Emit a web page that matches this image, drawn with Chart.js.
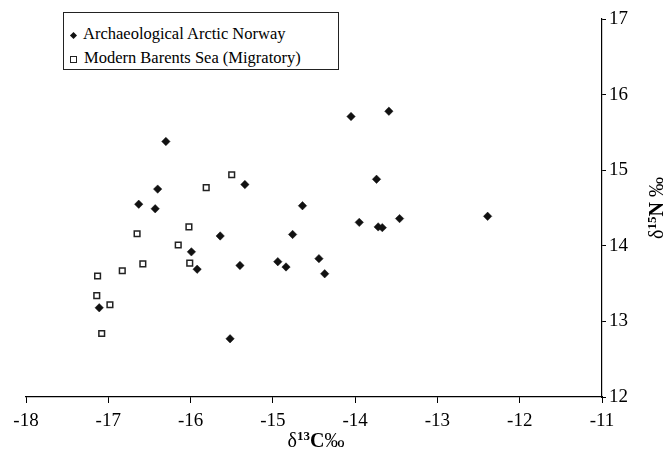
<!DOCTYPE html>
<html>
<head>
<meta charset="utf-8">
<script src="https://cdn.jsdelivr.net/npm/chart.js@4"></script>
<style>
  body { margin: 0; background: #fff; }
  #wrap { position: relative; width: 669px; height: 461px; font-family: 'Liberation Serif', serif; color: #000; }
  #legend { position: absolute; left: 63px; top: 12px; width: 274px; height: 56px; border: 1px solid #222; background: #fff; font-size: 16.5px; }
  #legend div { position: absolute; left: 6px; white-space: nowrap; }
  .mk { display: inline-block; vertical-align: middle; margin-right: 7px; }
  .dia { width: 5px; height: 5px; background: #111; transform: rotate(45deg); margin-left: 1px; }
  .sq { width: 5px; height: 5px; border: 1.2px solid #222; background: #fff; }
  #xtitle { position: absolute; left: 266px; width: 100px; text-align: center; top: 428px; font-size: 20px; }
  #ytitle { position: absolute; left: 616px; width: 80px; text-align: center; top: 196px; font-size: 20px; transform: rotate(-90deg); white-space: nowrap; }
  sup { font-size: 13px; font-weight: bold; vertical-align: 7px; }
</style>
</head>
<body>
<div id="wrap">
  <canvas id="chart" width="669" height="461"></canvas>
  <div id="legend">
    <div style="top:11px"><span class="mk dia"></span>Archaeological Arctic Norway</div>
    <div style="top:35px"><span class="mk sq"></span>Modern Barents Sea (Migratory)</div>
  </div>
  <div id="xtitle">δ<sup>13</sup><b>C</b>‰</div>
  <div id="ytitle">δ<sup>15</sup><b>N</b> ‰</div>
</div>
<script>
// Archaeological Arctic Norway
const archC = [-14.05, -16.30, -16.40, -16.63, -16.43, -15.34, -14.64, -13.95, -15.64, -14.76,
               -15.99, -15.92, -15.40, -14.94, -14.84, -14.44, -14.37, -17.11, -15.52, -13.59,
               -13.74, -13.72, -13.67, -13.46, -12.39];
const archN = [15.71, 15.38, 14.75, 14.55, 14.49, 14.81, 14.53, 14.31, 14.13, 14.15,
               13.92, 13.69, 13.74, 13.79, 13.72, 13.83, 13.63, 13.18, 12.77, 15.78,
               14.88, 14.25, 14.24, 14.36, 14.39];

// Modern Barents Sea (Migratory)
const modC = [-15.50, -15.81, -16.02, -16.65, -16.15, -16.58, -16.01, -16.83, -17.13, -17.14, -16.98, -17.08];
const modN = [14.94, 14.77, 14.25, 14.16, 14.01, 13.76, 13.77, 13.67, 13.60, 13.34, 13.22, 12.84];

const xTicks = [-18, -17, -16, -15, -14, -13, -12, -11];
const yTicks = [12, 13, 14, 15, 16, 17];

function toPoints(xs, ys) {
  return xs.map((x, i) => ({ x: x, y: ys[i] }));
}

const tickFont = { family: 'Liberation Serif', size: 19 };

new Chart(document.getElementById('chart'), {
  type: 'scatter',
  data: {
    datasets: [
      {
        label: 'Archaeological Arctic Norway',
        data: toPoints(archC, archN),
        pointStyle: 'rectRot',
        pointRadius: 4.2,
        backgroundColor: '#111',
        borderColor: '#111',
        borderWidth: 0.5
      },
      {
        label: 'Modern Barents Sea (Migratory)',
        data: toPoints(modC, modN),
        pointStyle: 'rect',
        pointRadius: 4,
        backgroundColor: '#fff',
        borderColor: '#222',
        borderWidth: 1.5
      }
    ]
  },
  options: {
    responsive: false,
    animation: false,
    layout: { padding: { left: 26, top: 19, right: 0, bottom: 0 } },
    plugins: { legend: { display: false }, tooltip: { enabled: false } },
    scales: {
      x: {
        type: 'linear',
        min: xTicks[0],
        max: xTicks[xTicks.length - 1],
        afterBuildTicks: s => { s.ticks = xTicks.map(v => ({ value: v })); },
        afterFit: s => { s.height = 64; },
        ticks: { color: '#000', font: tickFont, padding: 7, maxRotation: 0 },
        grid: { drawOnChartArea: false, drawTicks: true, tickLength: 6, color: '#000' },
        border: { display: true, color: '#000', width: 1.2 }
      },
      y: {
        type: 'linear',
        position: 'right',
        min: yTicks[0],
        max: yTicks[yTicks.length - 1],
        afterBuildTicks: s => { s.ticks = yTicks.map(v => ({ value: v })); },
        afterFit: s => { s.width = 67; },
        ticks: { color: '#000', font: tickFont, padding: 3 },
        grid: { drawOnChartArea: false, drawTicks: true, tickLength: 4, color: '#000' },
        border: { display: true, color: '#000', width: 1.2 }
      }
    }
  }
});
</script>
</body>
</html>
